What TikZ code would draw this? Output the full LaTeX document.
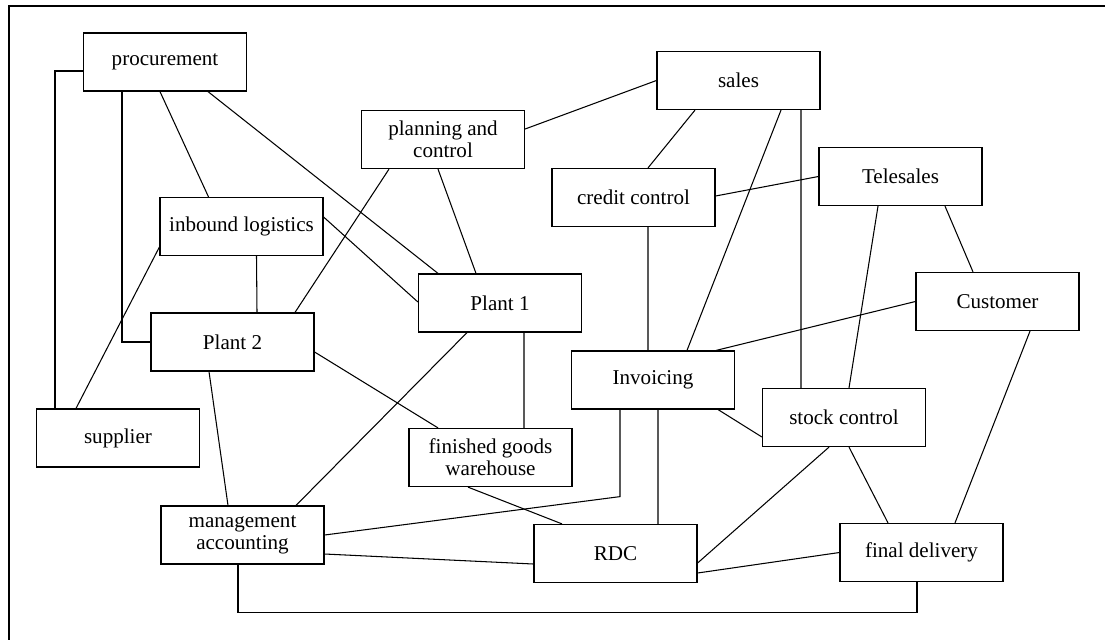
\documentclass[tikz,border=0pt]{standalone}
\usepackage{fontspec}
\setmainfont{Liberation Serif}
\usetikzlibrary{calc}

\begin{document}
\begin{tikzpicture}[x=0.02cm, y=-0.02cm,
  box/.style={draw, line width=0.7pt, fill=white, minimum width=3.26cm, minimum height=1.16cm,
    inner sep=0, align=center, font=\fontsize{12}{12.5}\selectfont},
  link/.style={line width=0.6pt}]
\useasboundingbox (0,0) rectangle (1105,640);
\draw[line width=0.8pt] (1105,6) -- (9,6) -- (9,640);

% departments (pixel grid, y downwards)
\node[box] (proc)    at (165,62)      {procurement};
\node[box] (plan)    at (443,139.5)   {planning and\\control};
\node[box] (sales)   at (738.5,80.5)  {sales};
\node[box] (credit)  at (633.5,197.5) {credit control};
\node[box] (tele)    at (900.5,176.5) {Telesales};
\node[box] (inbound) at (241.5,226.5) {inbound logistics};
\node[box] (plant1)  at (500,303)     {Plant 1};
\node[box] (cust)    at (997.5,301.5) {Customer};
\node[box] (plant2)  at (232.5,342)   {Plant 2};
\node[box] (supp)    at (118,438)     {supplier};
\node[box] (invoice) at (653,380)     {Invoicing};
\node[box] (stock)   at (844,417.5)   {stock control};
\node[box] (fgw)     at (490.5,457.5) {finished goods\\warehouse};
\node[box] (mgmt)    at (242.5,535)   {management\\accounting};
\node[box] (rdc)     at (615.5,553.5) {RDC};
\node[box] (final)   at (921.5,552.5) {final delivery};

% links
\draw[link] ($(proc.west)+(0,9)$) -| ($(supp.north)+(-63,0)$);
\draw[link] ($(proc.south)+(-43,0)$) |- (plant2.west);
\draw[link] ($(proc.south)+(-5,0)$) -- ($(inbound.north)+(-33,0)$);
\draw[link] ($(proc.south)+(43,0)$) -- ($(plant1.north)+(-62,0)$);
\draw[link] ($(inbound.south)+(15,0)$) -- ($(plant2.north)+(24.5,0)$);
\draw[link] ($(inbound.west)+(0,20.5)$) -- ($(supp.north)+(-42,0)$);
\draw[link] ($(inbound.east)+(0,-9.5)$) -- ($(plant1.west)+(0,-1)$);
\draw[link] ($(plan.south)+(-54,0)$) -- ($(plant2.north)+(62.5,0)$);
\draw[link] ($(plan.south)+(-5,0)$) -- ($(plant1.north)+(-24,0)$);
\draw[link] ($(plan.east)+(0,-10.5)$) -- (sales.west);
\draw[link] ($(sales.south)+(-43.5,0)$) -- ($(credit.north)+(14.5,0)$);
\draw[link] ($(sales.south)+(42.5,0)$) -- ($(invoice.north)+(34,0)$);
\draw[link] ($(sales.south)+(62.5,0)$) -- ($(stock.north)+(-43,0)$);
\draw[link] ($(credit.east)+(0,-1.5)$) -- (tele.west);
\draw[link] ($(credit.south)+(14.5,0)$) -- ($(invoice.north)+(-5,0)$);
\draw[link] ($(tele.south)+(-22.5,0)$) -- ($(stock.north)+(5,0)$);
\draw[link] ($(tele.south)+(44.5,0)$) -- ($(cust.north)+(-24.5,0)$);
\draw[link] (cust.west) -- ($(invoice.north east)+(-19,0)$);
\draw[link] ($(cust.south)+(32.5,0)$) -- ($(final.north)+(33.5,0)$);
\draw[link] ($(plant1.south)+(-33,0)$) -- ($(mgmt.north)+(53.5,0)$);
\draw[link] ($(plant1.south)+(24,0)$) -- ($(fgw.north)+(33.5,0)$);
\draw[link] ($(plant2.east)+(0,10)$) -- ($(fgw.north)+(-52.5,0)$);
\draw[link] ($(plant2.south)+(-23.5,0)$) -- ($(mgmt.north)+(-14.5,0)$);
\draw[link] ($(fgw.south)+(-22.5,0)$) -- ($(rdc.north)+(-53.5,0)$);
\draw[link] ($(invoice.south)+(-33,0)$) -- ++(0,87) -- (mgmt.east);
\draw[link] ($(invoice.south)+(5,0)$) -- ($(rdc.north)+(42.5,0)$);
\draw[link] ($(invoice.south east)+(-17,0)$) -- ($(stock.west)+(0,19.5)$);
\draw[link] ($(mgmt.east)+(0,19)$) -- ($(rdc.west)+(0,10.5)$);
\draw[link] ($(mgmt.south)+(-4.5,0)$) -- ++(0,48) -| ($(final.south)+(-4.5,0)$);
\draw[link] ($(rdc.east)+(0,9.5)$) -- ($(stock.south)+(-15,0)$);
\draw[link] ($(rdc.east)+(0,19.5)$) -- (final.west);
\draw[link] ($(stock.south)+(5,0)$) -- ($(final.north)+(-33.5,0)$);
\end{tikzpicture}
\end{document}
